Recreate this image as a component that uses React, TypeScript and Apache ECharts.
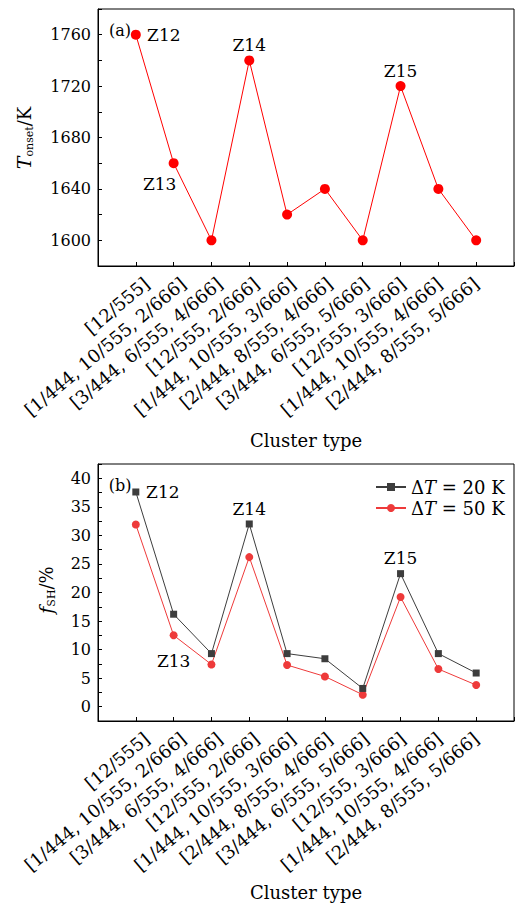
import React, { useEffect, useRef } from "react";
import * as echarts from "echarts";

// Cluster types along the horizontal axis
const CATEGORIES = [
  "[12/555]",
  "[1/444, 10/555, 2/666]",
  "[3/444, 6/555, 4/666]",
  "[12/555, 2/666]",
  "[1/444, 10/555, 3/666]",
  "[2/444, 8/555, 4/666]",
  "[3/444, 6/555, 5/666]",
  "[12/555, 3/666]",
  "[1/444, 10/555, 4/666]",
  "[2/444, 8/555, 5/666]",
];

// (a) onset temperature, K
const T_ONSET = [1760, 1660, 1600, 1740, 1620, 1640, 1600, 1720, 1640, 1600];

// (b) fraction of structural heredity, %
const F_SH_20K = [37.6, 16.2, 9.3, 32.0, 9.3, 8.4, 3.2, 23.3, 9.3, 5.9];
const F_SH_50K = [31.9, 12.5, 7.4, 26.2, 7.3, 5.3, 2.1, 19.2, 6.6, 3.8];

// cluster tags written beside selected points
const TAGS_A = ["Z12", "Z13", "", "Z14", "", "", "", "Z15", "", ""];
const TAGS_B_20K = ["Z12", "", "", "Z14", "", "", "", "Z15", "", ""];
const TAGS_B_50K = ["", "Z13", "", "", "", "", "", "", "", ""];

// labelled ticks
const Y_TICKS_A = [1600, 1640, 1680, 1720, 1760];
const Y_TICKS_B = [0, 5, 10, 15, 20, 25, 30, 35, 40];

const LEGEND_20K = "ΔT = 20 K";
const LEGEND_50K = "ΔT = 50 K";

const FONT = "DejaVu Serif";
const FS = 16;
const CAT_FS = 18;

// where each tag sits relative to its point
const TAG_OFFSET: Record<string, number[]> = {
  "a-Z12": [28, 0],
  "a-Z13": [-14, 21],
  "a-Z14": [0, -15],
  "a-Z15": [0, -15],
  "b-Z12": [27, 0],
  "b-Z13": [0, 26],
  "b-Z14": [0, -15],
  "b-Z15": [0, -16],
};

function withTags(values: number[], tags: string[], panel: string) {
  return values.map((v, i) => {
    const tag = tags[i];
    if (!tag) return [i + 1, v];
    return {
      value: [i + 1, v],
      label: {
        show: true,
        position: "inside",
        offset: TAG_OFFSET[`${panel}-${tag}`],
        formatter: tag,
        color: "#000",
        fontFamily: FONT,
        fontSize: 17,
      },
    };
  });
}

const catLabel = (v: number) => CATEGORIES[Math.round(v) - 1] ?? "";

function mainXAxis(gridIndex: number) {
  return {
    type: "value",
    gridIndex,
    min: 0,
    max: 11,
    interval: 1,
    axisLine: { show: true, onZero: false, lineStyle: { color: "#000", width: 1 } },
    axisTick: { show: true, inside: true, length: 4, lineStyle: { color: "#000" } },
    axisLabel: { show: false },
    splitLine: { show: false },
  };
}

function labelXAxis(gridIndex: number) {
  return {
    type: "value",
    gridIndex,
    min: 0,
    max: 11,
    interval: 1,
    axisLine: { show: false },
    axisTick: { show: false },
    splitLine: { show: false },
    axisLabel: {
      show: true,
      rotate: 40,
      margin: 15,
      formatter: catLabel,
      color: "#000",
      fontFamily: FONT,
      fontSize: CAT_FS,
      showMinLabel: true,
      showMaxLabel: true,
    },
  };
}

function hiddenYAxis(gridIndex: number) {
  return { type: "value", gridIndex, show: false, min: 0, max: 1 };
}

const App: React.FC = () => {
  const ref = useRef<HTMLDivElement>(null);

  useEffect(() => {
    if (!ref.current) return;
    const chart = echarts.init(ref.current, undefined, { renderer: "svg" });

    const grids = [
      { left: 98, top: 9, width: 416, height: 257, show: true, borderColor: "#000", borderWidth: 1 },
      { left: 110, top: 9, width: 416, height: 257, show: false },
      { left: 98, top: 464, width: 416, height: 257, show: true, borderColor: "#000", borderWidth: 1 },
      { left: 110, top: 464, width: 416, height: 257, show: false },
    ];

    const yLabelStyle = {
      color: "#000",
      fontFamily: FONT,
      fontSize: FS,
      margin: 7,
    };

    const option: any = {
      animation: false,
      backgroundColor: "#fff",
      grid: grids,
      xAxis: [mainXAxis(0), labelXAxis(1), mainXAxis(2), labelXAxis(3)],
      yAxis: [
        {
          type: "value",
          gridIndex: 0,
          min: 1580,
          max: 1780,
          interval: 20,
          axisLine: { show: true, lineStyle: { color: "#000", width: 1 } },
          axisTick: { show: true, inside: true, length: 4, lineStyle: { color: "#000" } },
          axisLabel: {
            ...yLabelStyle,
            formatter: (v: number) => (Y_TICKS_A.includes(Math.round(v)) ? String(Math.round(v)) : ""),
          },
          splitLine: { show: false },
        },
        hiddenYAxis(1),
        {
          type: "value",
          gridIndex: 2,
          min: -2.5,
          max: 42.5,
          interval: 2.5,
          axisLine: { show: true, lineStyle: { color: "#000", width: 1 } },
          axisTick: { show: true, inside: true, length: 4, lineStyle: { color: "#000" } },
          axisLabel: {
            ...yLabelStyle,
            formatter: (v: number) => {
              const r = Math.round(v * 10) / 10;
              return Y_TICKS_B.includes(r) ? String(r) : "";
            },
          },
          splitLine: { show: false },
        },
        hiddenYAxis(3),
      ],
      legend: {
        orient: "vertical",
        left: 370,
        top: 473,
        itemWidth: 30,
        itemHeight: 10,
        itemGap: 3,
        data: [LEGEND_20K, LEGEND_50K],
        formatter: (name: string) => {
          const rest = name.replace("ΔT", "");
          return `{u|Δ}{i|T}{u|${rest}}`;
        },
        textStyle: {
          color: "#000",
          fontFamily: FONT,
          fontSize: 18,
          rich: {
            u: { fontFamily: FONT, fontSize: 18, color: "#000" },
            i: { fontFamily: FONT, fontSize: 18, fontStyle: "italic", color: "#000" },
          },
        },
      },
      series: [
        {
          type: "line",
          name: "Tonset",
          xAxisIndex: 0,
          yAxisIndex: 0,
          data: withTags(T_ONSET, TAGS_A, "a"),
          symbol: "circle",
          symbolSize: 10,
          itemStyle: { color: "#ff0000" },
          lineStyle: { color: "#ff0000", width: 1 },
        },
        {
          type: "line",
          name: LEGEND_50K,
          xAxisIndex: 2,
          yAxisIndex: 2,
          data: withTags(F_SH_50K, TAGS_B_50K, "b"),
          symbol: "circle",
          symbolSize: 8,
          itemStyle: { color: "#ee3a3a" },
          lineStyle: { color: "#ee3a3a", width: 1 },
        },
        {
          type: "line",
          name: LEGEND_20K,
          xAxisIndex: 2,
          yAxisIndex: 2,
          data: withTags(F_SH_20K, TAGS_B_20K, "b"),
          symbol: "rect",
          symbolSize: 7,
          itemStyle: { color: "#3d3d3d" },
          lineStyle: { color: "#3d3d3d", width: 1 },
        },
      ],
      graphic: [
        {
          type: "text",
          x: 120,
          y: 30,
          style: { text: "(a)", fontFamily: FONT, fontSize: FS, fill: "#000", align: "center", verticalAlign: "middle" },
        },
        {
          type: "text",
          x: 120,
          y: 485,
          style: { text: "(b)", fontFamily: FONT, fontSize: FS, fill: "#000", align: "center", verticalAlign: "middle" },
        },
        {
          type: "text",
          x: 306,
          y: 440,
          style: { text: "Cluster type", fontFamily: FONT, fontSize: 18, fill: "#000", align: "center", verticalAlign: "middle" },
        },
        {
          type: "text",
          x: 306,
          y: 892,
          style: { text: "Cluster type", fontFamily: FONT, fontSize: 18, fill: "#000", align: "center", verticalAlign: "middle" },
        },
        {
          type: "text",
          x: 24,
          y: 138,
          rotation: Math.PI / 2,
          style: {
            text: "{i|T}{s|onset}{n|/K}",
            fontFamily: FONT,
            fontSize: 17,
            fill: "#000",
            align: "center",
            verticalAlign: "middle",
            rich: {
              i: { fontFamily: FONT, fontSize: 19, fontStyle: "italic", lineHeight: 22, fill: "#000" },
              s: { fontFamily: FONT, fontSize: 11, lineHeight: 11, verticalAlign: "bottom", fill: "#000" },
              n: { fontFamily: FONT, fontSize: 18, lineHeight: 22, fill: "#000" },
            },
          },
        },
        {
          type: "text",
          x: 46,
          y: 590,
          rotation: Math.PI / 2,
          style: {
            text: "{i|f}{s|SH}{n|/%}",
            fontFamily: FONT,
            fontSize: 17,
            fill: "#000",
            align: "center",
            verticalAlign: "middle",
            rich: {
              i: { fontFamily: FONT, fontSize: 19, fontStyle: "italic", lineHeight: 22, fill: "#000" },
              s: { fontFamily: FONT, fontSize: 11, lineHeight: 11, verticalAlign: "bottom", fill: "#000" },
              n: { fontFamily: FONT, fontSize: 18, lineHeight: 22, fill: "#000" },
            },
          },
        },
      ],
    };

    chart.setOption(option);
    return () => chart.dispose();
  }, []);

  return (
    <div
      ref={ref}
      style={{ position: "fixed", left: 0, top: 0, width: 515, height: 905, background: "#fff" }}
    />
  );
};

export default App;
